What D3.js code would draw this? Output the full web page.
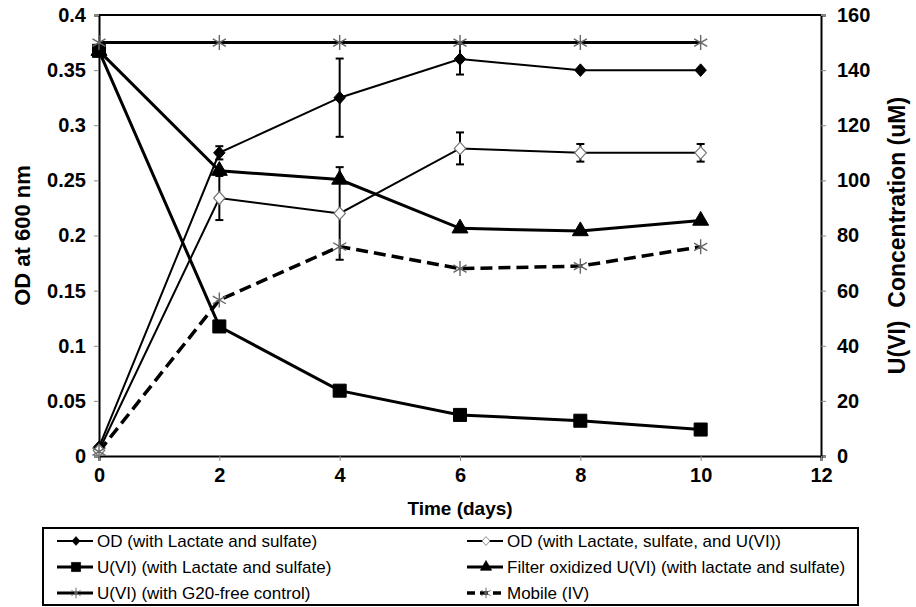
<!DOCTYPE html>
<html>
<head>
<meta charset="utf-8">
<script src="https://cdn.jsdelivr.net/npm/d3@7"></script>
<style>
  body { margin: 0; background: #fff; }
  text { font-family: "Liberation Sans", Arial, sans-serif; }
</style>
</head>
<body>
<div id="chart"></div>
<script>
// Data
let days = [0, 2, 4, 6, 8, 10];
let xTicks = [0, 2, 4, 6, 8, 10, 12];
let leftTicks = [0, 0.05, 0.1, 0.15, 0.2, 0.25, 0.3, 0.35, 0.4];
let rightTicks = [0, 20, 40, 60, 80, 100, 120, 140, 160];

// OD series (left axis)
let odLactate = [0.008, 0.275, 0.325, 0.36, 0.35, 0.35];
let odLactateErr = [0, 0.006, 0.0355, 0.014, 0, 0];
let odLactateU = [0.005, 0.234, 0.22, 0.279, 0.275, 0.275];
let odLactateUErr = [0, 0.02, 0.042, 0.0145, 0.008, 0.008];

// U(VI) series (right axis, uM)
let uLactate = [147, 47, 23.7, 14.9, 12.8, 9.6];
let uFilter = [147, 103.5, 100.3, 82.6, 81.6, 85.4];
let uControl = [150, 150, 150, 150, 150, 150];
let mobileIV = [1.6, 56.6, 76, 68, 68.9, 75.9];

let legendLabels = [
  "OD (with Lactate and sulfate)",
  "OD (with Lactate, sulfate, and U(VI))",
  "U(VI) (with Lactate and sulfate)",
  "Filter oxidized U(VI) (with lactate and sulfate)",
  "U(VI) (with G20-free control)",
  "Mobile (IV)"
];

let svgWidth = 916;
let svgHeight = 607;

let svg = d3.select("#chart")
  .append("svg")
  .attr("width", svgWidth)
  .attr("height", svgHeight);

// scales
let x = d3.scaleLinear().domain([0, 12]).range([99, 821]);
let yL = d3.scaleLinear().domain([0, 0.4]).range([456, 15]);
let yR = d3.scaleLinear().domain([0, 160]).range([456, 15]);

// plot frame (top border)
svg.append("line")
  .attr("x1", x(0)).attr("x2", x(12))
  .attr("y1", yL(0.4)).attr("y2", yL(0.4))
  .attr("stroke", "#000").attr("stroke-width", 2);

// axes
let fmtL = d => d === 0 ? "0" : String(+d.toFixed(2));

let leftAxis = svg.append("g")
  .attr("transform", `translate(${x(0)},0)`)
  .call(d3.axisLeft(yL).tickValues(leftTicks).tickSize(5).tickPadding(8).tickFormat(fmtL));

let rightAxis = svg.append("g")
  .attr("transform", `translate(${x(12)},0)`)
  .call(d3.axisRight(yR).tickValues(rightTicks).tickSize(5).tickPadding(11));

let bottomAxis = svg.append("g")
  .attr("transform", `translate(0,${yL(0)})`)
  .call(d3.axisBottom(x).tickValues(xTicks).tickSize(5).tickPadding(7));

[leftAxis, rightAxis, bottomAxis].forEach(function(g) {
  g.select(".domain").attr("stroke", "#000").attr("stroke-width", 2);
  g.selectAll(".tick line").attr("stroke", "#888").attr("stroke-width", 1);
  g.selectAll(".tick text")
    .attr("fill", "#000")
    .style("font-size", "20px")
    .style("font-weight", "bold")
    .style("font-family", "'Liberation Sans', Arial, sans-serif");
});

// axis titles
svg.append("text")
  .attr("transform", `translate(30,${(yL(0) + yL(0.4)) / 2}) rotate(-90)`)
  .attr("text-anchor", "middle")
  .style("font-size", "22px")
  .style("font-weight", "bold")
  .text("OD at 600 nm");

svg.append("text")
  .attr("transform", `translate(905,${(yL(0) + yL(0.4)) / 2}) rotate(-90)`)
  .attr("text-anchor", "middle")
  .style("font-size", "23px")
  .style("font-weight", "bold")
  .style("white-space", "pre")
  .attr("xml:space", "preserve")
  .text("U(VI)  Concentration (uM)");

svg.append("text")
  .attr("x", (x(0) + x(12)) / 2)
  .attr("y", 515)
  .attr("text-anchor", "middle")
  .style("font-size", "19px")
  .style("font-weight", "bold")
  .text("Time (days)");

// wide diamond like the spreadsheet marker
let wideDiamond = {
  draw: function(context, size) {
    let h = Math.sqrt(size) / 2;
    context.moveTo(0, -h * 1.1);
    context.lineTo(h, 0);
    context.lineTo(0, h * 1.1);
    context.lineTo(-h, 0);
    context.closePath();
  }
};

// series definitions
let asterisk = d3.symbol().type(d3.symbolAsterisk).size(160);
let series = [
  { vals: odLactate, err: odLactateErr, y: yL, width: 2, dash: null,
    sym: d3.symbol().type(wideDiamond).size(130), fill: "#000", stroke: "#000", sw: 1 },
  { vals: odLactateU, err: odLactateUErr, y: yL, width: 2, dash: null,
    sym: d3.symbol().type(wideDiamond).size(130), fill: "#fff", stroke: "#777", sw: 1.2 },
  { vals: uLactate, err: null, y: yR, width: 3, dash: null,
    sym: d3.symbol().type(d3.symbolSquare).size(170), fill: "#000", stroke: "#000", sw: 1 },
  { vals: uFilter, err: null, y: yR, width: 3, dash: null,
    sym: d3.symbol().type(d3.symbolTriangle).size(110), fill: "#000", stroke: "#000", sw: 1 },
  { vals: uControl, err: null, y: yR, width: 3, dash: null,
    sym: asterisk, fill: "none", stroke: "#666", sw: 1.4 },
  { vals: mobileIV, err: null, y: yR, width: 3.5, dash: "12,6",
    sym: asterisk, fill: "none", stroke: "#666", sw: 1.4 }
];

let plot = svg.append("g");

// lines
series.forEach(function(s) {
  let line = d3.line()
    .x((d, i) => x(days[i]))
    .y(d => s.y(d));
  plot.append("path")
    .datum(s.vals)
    .attr("d", line)
    .attr("fill", "none")
    .attr("stroke", "#000")
    .attr("stroke-width", s.width)
    .attr("stroke-dasharray", s.dash);
});

// error bars
series.forEach(function(s) {
  if (!s.err) return;
  days.forEach(function(d, i) {
    let e = s.err[i];
    if (!e) return;
    let cx = x(d), y1 = s.y(s.vals[i] - e), y2 = s.y(s.vals[i] + e);
    let g = plot.append("g").attr("stroke", "#000").attr("stroke-width", 2);
    g.append("line").attr("x1", cx).attr("x2", cx).attr("y1", y1).attr("y2", y2);
    g.append("line").attr("x1", cx - 4).attr("x2", cx + 4).attr("y1", y1).attr("y2", y1);
    g.append("line").attr("x1", cx - 4).attr("x2", cx + 4).attr("y1", y2).attr("y2", y2);
  });
});

// markers
series.forEach(function(s) {
  plot.selectAll(null)
    .data(s.vals)
    .enter()
    .append("path")
    .attr("transform", (d, i) => `translate(${x(days[i])},${s.y(d)})`)
    .attr("d", s.sym)
    .attr("fill", s.fill)
    .attr("stroke", s.stroke)
    .attr("stroke-width", s.sw);
});

// legend
let legend = svg.append("g");
legend.append("rect")
  .attr("x", 43).attr("y", 528)
  .attr("width", 815).attr("height", 77)
  .attr("fill", "#fff")
  .attr("stroke", "#000")
  .attr("stroke-width", 2);

let legendRows = [541, 567, 593];
let legendCols = [57, 467];
series.forEach(function(s, i) {
  let lx = legendCols[i % 2];
  let ly = legendRows[Math.floor(i / 2)];
  let item = legend.append("g").attr("transform", `translate(${lx},${ly})`);
  item.append("line")
    .attr("x1", 0).attr("x2", 36)
    .attr("stroke", "#000")
    .attr("stroke-width", s.width)
    .attr("stroke-dasharray", s.dash ? "8,5" : null);
  item.append("path")
    .attr("transform", "translate(19,0) scale(0.7)")
    .attr("d", s.sym)
    .attr("fill", s.fill)
    .attr("stroke", s.stroke)
    .attr("stroke-width", s.sw);
  item.append("text")
    .attr("x", 40)
    .attr("dy", "0.36em")
    .style("font-size", "17px")
    .text(legendLabels[i]);
});
</script>
</body>
</html>
